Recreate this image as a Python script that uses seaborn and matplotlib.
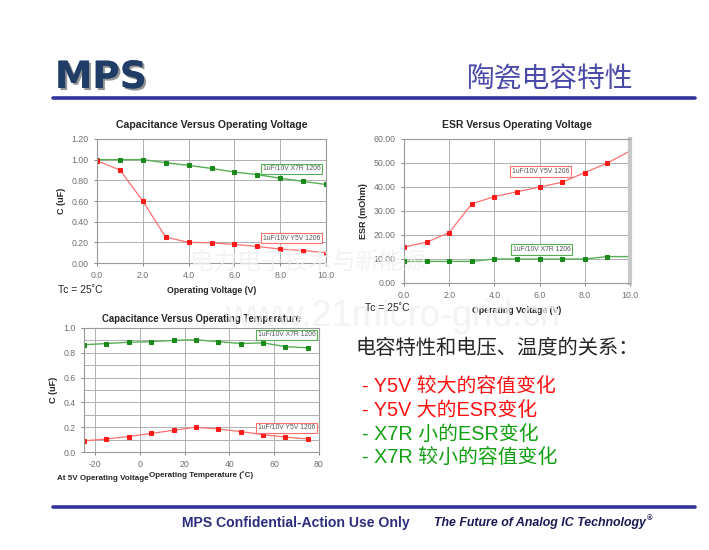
import matplotlib
matplotlib.use("Agg")
import matplotlib.pyplot as plt
import matplotlib.patheffects as pe
from matplotlib.ticker import FormatStrFormatter, MultipleLocator
import pandas as pd
import seaborn as sns

# ---- data ----
volts = [0, 1, 2, 3, 4, 5, 6, 7, 8, 9, 10]
cap_x7r = [1.00, 1.00, 1.00, 0.97, 0.945, 0.915, 0.88, 0.855, 0.82, 0.79, 0.76]
cap_y5v = [0.99, 0.90, 0.60, 0.25, 0.20, 0.195, 0.18, 0.16, 0.135, 0.12, 0.10]

esr_y5v = [15, 17, 21, 33, 36, 38, 40, 42, 46, 50, 55]
esr_x7r = [9, 9, 9, 9, 10, 10, 10, 10, 10, 11, 11]

temps = [-25, -15, -5, 5, 15, 25, 35, 45, 55, 65, 75]
tcap_x7r = [0.865, 0.875, 0.885, 0.89, 0.90, 0.905, 0.89, 0.875, 0.88, 0.85, 0.84]
tcap_y5v = [0.09, 0.105, 0.125, 0.15, 0.175, 0.20, 0.185, 0.165, 0.14, 0.12, 0.105]

lab_x7r = "1uF/10V X7R 1206"
lab_y5v = "1uF/10V Y5V 1206"

bullets = ["- Y5V 较大的容值变化", "- Y5V 大的ESR变化", "- X7R 小的ESR变化", "- X7R 较小的容值变化"]
bullet_cols = ["#ff1010", "#ff1010", "#12a012", "#12a012"]

sns.set_style("white")
plt.rcParams['font.family'] = ['Liberation Sans', 'Noto Sans CJK SC', 'DejaVu Sans']
plt.rcParams['axes.unicode_minus'] = False

GREEN_L = "#55b055"
GREEN_M = "#1a8a1a"
RED_L = "#ff7070"
RED_M = "#ff1a1a"
TICK = "#707070"
NAVY = "#333399"

fig = plt.figure(figsize=(7.09, 5.5), dpi=100)
W, H = 709, 550


def px_axes(x0, y0, x1, y1):
    return fig.add_axes([x0 / W, 1 - y1 / H, (x1 - x0) / W, (y1 - y0) / H])


def style_axes(ax):
    for s in ax.spines.values():
        s.set_color("#9a9a9a")
        s.set_linewidth(0.8)
    ax.tick_params(colors=TICK, labelsize=6.3, length=2.5, width=0.6, direction="out",
                   left=True, bottom=True)
    ax.grid(True, color="#b0b0b0", linewidth=0.7)
    ax.set_axisbelow(True)


def tag(ax, x, y, text, edge):
    ax.text(x, y, text, fontsize=4.9, color="#555555", ha="center", va="center",
            bbox=dict(boxstyle="square,pad=0.25", fc="white", ec=edge, lw=0.8), zorder=5)


# ---- chart 1 ----
ax1 = px_axes(97, 139, 326, 263)
d1 = pd.DataFrame({"v": volts, "x7r": cap_x7r, "y5v": cap_y5v})
sns.lineplot(data=d1, x="v", y="x7r", ax=ax1, color=GREEN_L, lw=1.0, marker="s",
             markersize=2.8, markerfacecolor=GREEN_M, markeredgecolor=GREEN_M)
sns.lineplot(data=d1, x="v", y="y5v", ax=ax1, color=RED_L, lw=0.9, marker="s",
             markersize=2.2, markerfacecolor=RED_M, markeredgecolor=RED_M)
ax1.set_xlim(0, 10)
ax1.set_ylim(0, 1.2)
ax1.xaxis.set_major_locator(MultipleLocator(2))
ax1.yaxis.set_major_locator(MultipleLocator(0.2))
ax1.xaxis.set_major_formatter(FormatStrFormatter("%.1f"))
ax1.yaxis.set_major_formatter(FormatStrFormatter("%.2f"))
style_axes(ax1)
ax1.set_title("Capacitance Versus Operating Voltage", fontsize=7.6, fontweight="bold", pad=8)
ax1.set_xlabel("Operating Voltage (V)", fontsize=6.3, fontweight="bold", labelpad=4)
ax1.set_ylabel("C (uF)", fontsize=6.5, fontweight="bold", labelpad=4)
tag(ax1, 8.5, 0.91, lab_x7r, GREEN_L)
tag(ax1, 8.5, 0.24, lab_y5v, RED_L)

# ---- chart 2 ----
ax2 = px_axes(404, 139, 630, 283)
d2 = pd.DataFrame({"v": volts, "y5v": esr_y5v, "x7r": esr_x7r})
sns.lineplot(data=d2, x="v", y="y5v", ax=ax2, color=RED_L, lw=0.9, marker="s",
             markersize=2.2, markerfacecolor=RED_M, markeredgecolor=RED_M)
sns.lineplot(data=d2, x="v", y="x7r", ax=ax2, color=GREEN_L, lw=1.0, marker="s",
             markersize=2.8, markerfacecolor=GREEN_M, markeredgecolor=GREEN_M)
ax2.set_xlim(0, 10)
ax2.set_ylim(0, 60)
ax2.xaxis.set_major_locator(MultipleLocator(2))
ax2.yaxis.set_major_locator(MultipleLocator(10))
ax2.xaxis.set_major_formatter(FormatStrFormatter("%.1f"))
ax2.yaxis.set_major_formatter(FormatStrFormatter("%.2f"))
style_axes(ax2)
ax2.spines["right"].set_linewidth(3)
ax2.spines["right"].set_color("#c8c8c8")
ax2.set_title("ESR Versus Operating Voltage", fontsize=7.5, fontweight="bold", pad=8)
ax2.set_xlabel("Operating Voltage (V)", fontsize=6.3, fontweight="bold", labelpad=4)
ax2.set_ylabel("ESR (mOhm)", fontsize=6.5, fontweight="bold", labelpad=4)
tag(ax2, 6.05, 46.5, lab_y5v, RED_L)
tag(ax2, 6.1, 14.0, lab_x7r, GREEN_L)

# ---- chart 3 ----
ax3 = px_axes(84, 328, 319, 452)
d3 = pd.DataFrame({"t": temps, "x7r": tcap_x7r, "y5v": tcap_y5v})
sns.lineplot(data=d3, x="t", y="x7r", ax=ax3, color=GREEN_L, lw=1.0, marker="s",
             markersize=2.2, markerfacecolor=GREEN_M, markeredgecolor=GREEN_M)
sns.lineplot(data=d3, x="t", y="y5v", ax=ax3, color=RED_L, lw=0.9, marker="s",
             markersize=2.7, markerfacecolor=RED_M, markeredgecolor=RED_M)
ax3.set_xlim(-25, 80)
ax3.set_ylim(0, 1.0)
ax3.xaxis.set_major_locator(MultipleLocator(20))
ax3.yaxis.set_major_locator(MultipleLocator(0.2))
ax3.yaxis.set_minor_locator(MultipleLocator(0.1))
ax3.yaxis.set_major_formatter(FormatStrFormatter("%.1f"))
style_axes(ax3)
ax3.grid(True, which="minor", axis="y", color="#b0b0b0", linewidth=0.7)
ax3.tick_params(which="minor", left=False)
ax3.set_title("Capacitance Versus Operating Temperature", fontsize=6.9, fontweight="bold", pad=4)
ax3.set_xlabel("Operating Temperature (˚C)", fontsize=5.8, fontweight="bold", labelpad=1)
ax3.set_ylabel("C (uF)", fontsize=6.5, fontweight="bold", labelpad=4)
tag(ax3, 65.5, 0.944, lab_x7r, GREEN_L)
tag(ax3, 65.5, 0.194, lab_y5v, RED_L)

# ---- captions under charts ----
fig.text(58 / W, 1 - 290 / H, "Tc = 25˚C", fontsize=7.5, va="center")
fig.text(365 / W, 1 - 308 / H, "Tc = 25˚C", fontsize=7.5, va="center")
fig.text(57 / W, 1 - 479 / H, "At 5V Operating Voltage", fontsize=5.8, fontweight="bold", va="center")

# ---- slide header ----
logo = fig.text(55 / W, 1 - 78 / H, "MPS", fontsize=27, fontweight="heavy", color="#1f3d66",
                family="DejaVu Sans", va="center", ha="left")
logo.set_path_effects([pe.withSimplePatchShadow(offset=(1.5, -1.5), shadow_rgbFace="#8a8a8a", alpha=0.9),
                       pe.Normal()])
fig.text(633 / W, 1 - 80 / H, "陶瓷电容特性", fontsize=20, color="#4a4aa8", ha="right", va="center",
         family=["Noto Sans CJK SC"], fontweight="light")
fig.add_artist(plt.Line2D([53 / W, 695 / W], [1 - 98 / H, 1 - 98 / H], color=NAVY, lw=2.6))

# ---- bullet text ----
fig.text(355 / W, 1 - 348 / H, "电容特性和电压、温度的关系：", fontsize=14.6, va="center",
         family=["Noto Sans CJK SC"], fontweight="light")
for i, (b, c) in enumerate(zip(bullets, bullet_cols)):
    fig.text(362 / W, 1 - (387 + 23.5 * i) / H, b, fontsize=14.3, color=c, va="center",
             family=["Liberation Sans", "Noto Sans CJK SC"])

# ---- watermark ----
fig.text(190 / W, 1 - 262 / H, "电力电子技术与新能源", fontsize=17, color="#f0f0f0", va="center",
         family=["Noto Sans CJK SC"], fontweight="light", zorder=0.5, alpha=0.8)
fig.text(225 / W, 1 - 317 / H, "www.21micro-grid.cn", fontsize=26, color="#f0f0f0", va="center",
         zorder=0.5, alpha=0.8)

# ---- footer ----
fig.add_artist(plt.Line2D([53 / W, 695 / W], [1 - 507 / H, 1 - 507 / H], color=NAVY, lw=2.6))
fig.text(182 / W, 1 - 523 / H, "MPS Confidential-Action Use Only", fontsize=10.1, fontweight="bold",
         color="#2d2d80", va="center")
fig.text(434 / W, 1 - 523 / H, "The Future of Analog IC Technology", fontsize=8.9, fontweight="bold",
         style="italic", color="#1a1a55", va="center")
fig.text(647 / W, 1 - 519 / H, "®", fontsize=5.5, fontweight="bold", color="#1a1a55", va="center")

fig.savefig("out.png", dpi=100)
